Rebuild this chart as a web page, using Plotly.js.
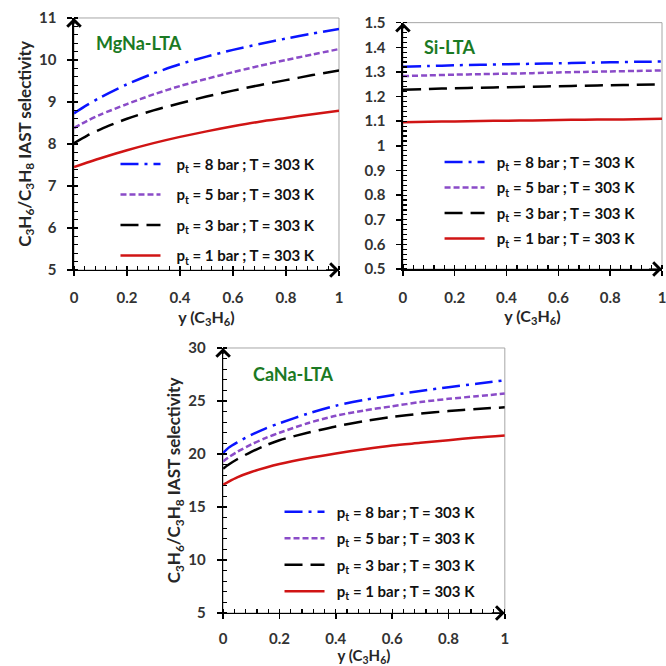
<!DOCTYPE html>
<html>
<head>
<meta charset="utf-8">
<script src="https://cdn.plot.ly/plotly-3.0.1.min.js"></script>
<style>html,body{margin:0;padding:0;background:#fff;}#chart{width:666px;height:666px;}</style>
</head>
<body>
<div id="chart"></div>
<script>
// ---- data ----
const seriesLabels = [
  "p<sub>t</sub> = 8 bar ; T = 303 K",
  "p<sub>t</sub> = 5 bar ; T = 303 K",
  "p<sub>t</sub> = 3 bar ; T = 303 K",
  "p<sub>t</sub> = 1 bar ; T = 303 K"
];
const panelNames = ["MgNa-LTA", "Si-LTA", "CaNa-LTA"];

const xMg = [0, 0.05, 0.1, 0.2, 0.3, 0.4, 0.5, 0.6, 0.7, 0.8, 0.9, 1];
const mg8 = [8.73, 8.93, 9.11, 9.42, 9.68, 9.90, 10.08, 10.24, 10.38, 10.51, 10.63, 10.74];
const mg5 = [8.38, 8.55, 8.70, 8.95, 9.18, 9.38, 9.55, 9.71, 9.86, 10.00, 10.13, 10.26];
const mg3 = [8.02, 8.20, 8.35, 8.60, 8.80, 8.97, 9.13, 9.27, 9.40, 9.52, 9.64, 9.75];
const mg1 = [7.45, 7.56, 7.66, 7.85, 8.02, 8.17, 8.30, 8.42, 8.53, 8.62, 8.71, 8.79];

const xSi = [0, 0.1, 0.2, 0.3, 0.4, 0.5, 0.6, 0.7, 0.8, 0.9, 1];
const si8 = [1.321, 1.324, 1.327, 1.329, 1.331, 1.333, 1.335, 1.337, 1.339, 1.341, 1.342];
const si5 = [1.283, 1.286, 1.289, 1.291, 1.293, 1.295, 1.298, 1.300, 1.302, 1.304, 1.306];
const si3 = [1.228, 1.231, 1.234, 1.236, 1.238, 1.240, 1.242, 1.244, 1.246, 1.248, 1.250];
const si1 = [1.096, 1.098, 1.099, 1.101, 1.102, 1.103, 1.105, 1.106, 1.107, 1.108, 1.110];

const xCa = [0, 0.02, 0.05, 0.1, 0.15, 0.2, 0.3, 0.4, 0.5, 0.6, 0.7, 0.8, 0.9, 1];
const ca8 = [20.1, 20.6, 21.1, 21.8, 22.4, 22.9, 23.8, 24.55, 25.1, 25.55, 25.95, 26.3, 26.62, 26.95];
const ca5 = [19.3, 19.7, 20.2, 20.9, 21.5, 22.0, 22.9, 23.6, 24.1, 24.5, 24.9, 25.2, 25.45, 25.7];
const ca3 = [18.6, 19.0, 19.5, 20.2, 20.8, 21.3, 22.0, 22.6, 23.1, 23.5, 23.8, 24.05, 24.25, 24.4];
const ca1 = [17.1, 17.4, 17.8, 18.3, 18.7, 19.05, 19.6, 20.05, 20.45, 20.8, 21.05, 21.3, 21.55, 21.75];

// ---- styles ----
const FONT = "Lato, 'Open Sans', sans-serif";
const styles = [
  {color: "#0a14ff", dash: "18px,6px,3px,6px"},
  {color: "#8a4bc8", dash: "6px,3px"},
  {color: "#000000", dash: "18px,8px"},
  {color: "#d01414", dash: "solid"}
];

const panels = [
  {x: xMg, ys: [mg8, mg5, mg3, mg1], xa: "x", ya: "y", leg: "legend", pad: "\u00a0\u00a0\u00a0"},
  {x: xSi, ys: [si8, si5, si3, si1], xa: "x2", ya: "y2", leg: "legend2", pad: "\u00a0\u00a0"},
  {x: xCa, ys: [ca8, ca5, ca3, ca1], xa: "x3", ya: "y3", leg: "legend3", pad: "\u00a0\u00a0"}
];

const traces = [];
panels.forEach((p, pi) => {
  p.ys.forEach((yv, i) => {
    traces.push({
      type: "scatter", mode: "lines",
      x: p.x, y: yv, xaxis: p.xa, yaxis: p.ya,
      name: p.pad + seriesLabels[i],
      legend: p.leg,
      legendgroup: "p" + pi + "s" + i,
      line: {color: styles[i].color, dash: styles[i].dash, width: 2.5, shape: "spline", smoothing: 0.8}
    });
  });
});

function xAxis(domain, anchor, labelStandoff, titleStandoff, titleSize) {
  return {
    domain: domain, anchor: anchor, range: [0, 1],
    dtick: 0.2, tick0: 0,
    ticks: "outside", ticklen: 5, tickwidth: 1.5, tickcolor: "#000",
    minor: {dtick: 0.04, ticks: "inside", ticklen: 4, tickwidth: 1.2, tickcolor: "#000"},
    showline: true, linecolor: "#000", linewidth: 1.5,
    showgrid: false, zeroline: false,
    ticklabelstandoff: labelStandoff, ticklabeloverflow: "allow",
    tickfont: {family: FONT, size: 15, color: "#333", weight: "bold"},
    title: {text: "y (C<sub>3</sub>H<sub>6</sub>)", font: {family: FONT, size: titleSize, color: "#262626", weight: "bold"}, standoff: titleStandoff}
  };
}
function yAxis(domain, anchor, range, dtick, mdtick, withTitle) {
  return {
    domain: domain, anchor: anchor, range: range,
    dtick: dtick, tick0: range[0],
    ticks: "outside", ticklen: 5, tickwidth: 1.5, tickcolor: "#000",
    minor: {dtick: mdtick, ticks: "inside", ticklen: 4, tickwidth: 1.2, tickcolor: "#000"},
    showline: true, linecolor: "#000", linewidth: 1.5,
    showgrid: false, zeroline: false,
    ticklabelstandoff: 8, ticklabeloverflow: "allow",
    tickfont: {family: FONT, size: 15, color: "#333", weight: "bold"},
    title: withTitle ? {text: "C<sub>3</sub>H<sub>6</sub>/C<sub>3</sub>H<sub>8</sub> IAST selectivity", font: {family: FONT, size: 17, color: "#262626", weight: "bold"}, standoff: 3} : undefined
  };
}

function legendAt(x, y, gap) {
  return {
    x: x, y: y, xanchor: "left", yanchor: "top",
    bgcolor: "rgba(0,0,0,0)", borderwidth: 0,
    traceorder: "grouped", tracegroupgap: gap, itemwidth: 40,
    font: {family: FONT, size: 15, color: "#111", weight: "bold"}
  };
}

const border = (xr, yr) => ({type: "rect", xref: xr + " domain", yref: yr + " domain", x0: 0, x1: 1, y0: 0, y1: 1, line: {color: "#a6a6a6", width: 1}, layer: "below"});

const arrowsFor = (xr, yr, xmax, ymin, ymax) => [
  {xref: xr, yref: yr, x: 0, y: ymax, ax: 0, ay: 16, text: " ", showarrow: true, arrowhead: 4, arrowsize: 2, arrowwidth: 1.3, arrowcolor: "#000", standoff: 0},
  {xref: xr, yref: yr, x: xmax, y: ymin, ax: -16, ay: 0, text: " ", showarrow: true, arrowhead: 4, arrowsize: 2, arrowwidth: 1.3, arrowcolor: "#000", standoff: 0}
];

const nameAnn = (xr, yr, x, y, t) => ({xref: xr + " domain", yref: yr + " domain", x: x, y: y, xanchor: "center", yanchor: "middle", text: t, showarrow: false, font: {family: FONT, size: 18, color: "#1b7a24", weight: "bold"}});

const layout = {
  width: 666, height: 666,
  margin: {l: 0, r: 0, t: 0, b: 0},
  paper_bgcolor: "#fff", plot_bgcolor: "#fff",
  showlegend: true,
  xaxis: xAxis([0.1111, 0.509], "y", 9, 6, 16),
  yaxis: yAxis([0.5946, 0.973], "x", [5, 11], 1, 0.2, true),
  xaxis2: xAxis([0.605, 0.994], "y2", 9, 6, 16),
  yaxis2: yAxis([0.596, 0.966], "x2", [0.5, 1.5], 0.1, 0.02, false),
  xaxis3: xAxis([0.335, 0.758], "y3", 7, 6, 15),
  yaxis3: yAxis([0.0796, 0.4775], "x3", [5, 30], 5, 1, true),
  legend: legendAt(0.1734, 0.778, 8),
  legend2: legendAt(0.66, 0.781, 3),
  legend3: legendAt(0.4197, 0.256, 4),
  shapes: [border("x", "y"), border("x2", "y2"), border("x3", "y3")],
  annotations: [
    ...arrowsFor("x", "y", 1, 5, 11),
    ...arrowsFor("x2", "y2", 1, 0.5, 1.5),
    ...arrowsFor("x3", "y3", 1, 5, 30),
    nameAnn("x", "y", 0.245, 0.9, panelNames[0]),
    nameAnn("x2", "y2", 0.178, 0.9, panelNames[1]),
    nameAnn("x3", "y3", 0.25, 0.9, panelNames[2])
  ]
};

Plotly.newPlot("chart", traces, layout, {staticPlot: true, displayModeBar: false});
</script>
</body>
</html>
